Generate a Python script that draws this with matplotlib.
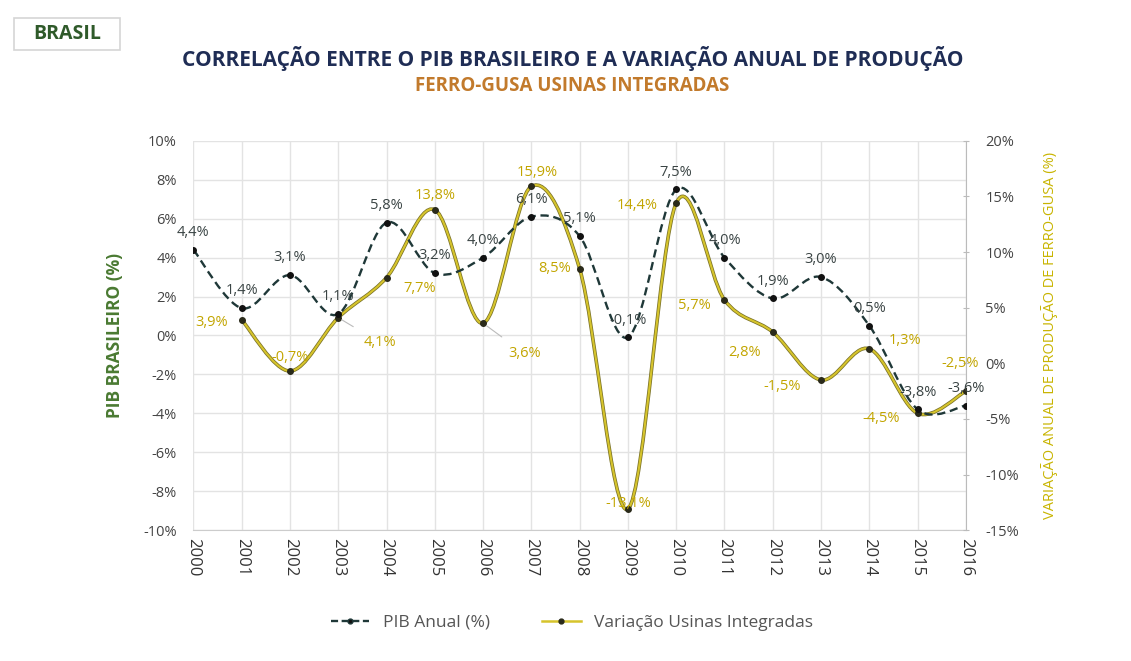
import numpy as np
import matplotlib
matplotlib.use("Agg")
import matplotlib.pyplot as plt
from matplotlib.path import Path
from matplotlib.patches import PathPatch, FancyBboxPatch
from matplotlib.lines import Line2D
from matplotlib.ticker import FuncFormatter

plt.rcParams['font.family'] = ['Open Sans', 'DejaVu Sans']

# dados
anos = list(range(2000, 2017))
pib = [4.4, 1.4, 3.1, 1.1, 5.8, 3.2, 4.0, 6.1, 5.1, -0.1, 7.5, 4.0, 1.9, 3.0, 0.5, -3.8, -3.6]
anos_gusa = list(range(2001, 2017))
gusa = [3.9, -0.7, 4.1, 7.7, 13.8, 3.6, 15.9, 8.5, -13.1, 14.4, 5.7, 2.8, -1.5, 1.3, -4.5, -2.5]

# posicao dos rotulos (pontos de deslocamento)
off_gusa = [(-22, -2), (0, 10), (30, -18), (24, -8), (0, 10), (30, -22), (4, 10), (-18, 0),
            (0, 4), (-28, -2), (-22, -4), (-20, -15), (-28, -5), (26, 6), (-26, -4), (-4, 20)]

COR_PIB = '#1f3838'
COR_GUSA = '#d6c42c'
COR_ROT_GUSA = '#c2a500'


def suave(x, y):
    # curva suavizada (bezier tipo excel)
    x = np.asarray(x, float)
    y = np.asarray(y, float)
    p = np.column_stack([x, y])
    n = len(p)
    verts = [p[0]]
    codes = [Path.MOVETO]
    for i in range(n - 1):
        p0 = p[i - 1] if i > 0 else p[i]
        p3 = p[i + 2] if i + 2 < n else p[i + 1]
        c1 = p[i] + (p[i + 1] - p0) / 6
        c2 = p[i + 1] - (p3 - p[i]) / 6
        verts += [c1, c2, p[i + 1]]
        codes += [Path.CURVE4] * 3
    return Path(verts, codes)


fig = plt.figure(figsize=(11.31, 6.61), dpi=100)
ax = fig.add_axes([0.171, 0.198, 0.683, 0.589])
ax2 = ax.twinx()

ax.set_xlim(2000, 2016)
ax.set_ylim(-10, 10)
ax2.set_ylim(-15, 20)
ax.set_yticks(np.arange(-10, 11, 2))
ax2.set_yticks(np.arange(-15, 21, 5))
ax.set_xticks(anos)
ax.set_xticklabels([str(a) for a in anos], rotation=-90, fontsize=12, color='#333333')
ax.yaxis.set_major_formatter(FuncFormatter(lambda v, p: '%d%%' % v))
ax2.yaxis.set_major_formatter(FuncFormatter(lambda v, p: '%d%%' % v))
ax.tick_params(axis='y', length=0, labelsize=10.5, colors='#444444', pad=12)
ax.tick_params(axis='x', length=0, pad=6)
ax2.tick_params(axis='y', length=4, direction='inout', labelsize=10.5, colors='#444444', pad=12)
ax2.tick_params(axis='y', color='#bbbbbb')

ax.grid(True, color='#e3e3e3', linewidth=1)
ax.set_axisbelow(True)
for s in ['top', 'left']:
    ax.spines[s].set_visible(False)
    ax2.spines[s].set_visible(False)
ax.spines['right'].set_visible(False)
ax.spines['bottom'].set_color('#cccccc')
ax2.spines['bottom'].set_visible(False)
ax2.spines['right'].set_color('#bbbbbb')

# serie gusa (eixo direito)
ax2.add_patch(PathPatch(suave(anos_gusa, gusa), fill=False, edgecolor='#7a7228', lw=2.6, zorder=2))
ax2.add_patch(PathPatch(suave(anos_gusa, gusa), fill=False, edgecolor=COR_GUSA, lw=1.5, zorder=3))
ax2.plot(anos_gusa, gusa, 'o', ms=4, color='#2a2a1a', zorder=4)

# serie pib (eixo esquerdo)
pib_line = PathPatch(suave(anos, pib), fill=False, edgecolor=COR_PIB, lw=1.7,
                     linestyle=(0, (3.5, 2)), transform=ax.transData, zorder=5)
ax2.add_patch(pib_line)
ax2.plot(anos, pib, 'o', ms=4, color='#111111', transform=ax.transData, zorder=6)

for a, v in zip(anos, pib):
    ax2.annotate(('%.1f%%' % v).replace('.', ','), (a, v), xycoords=ax.transData,
                 xytext=(0, 7), textcoords='offset points', ha='center', va='bottom',
                 fontsize=10.5, color='#3a4444', zorder=7)

for i, (a, v) in enumerate(zip(anos_gusa, gusa)):
    dx, dy = off_gusa[i]
    props = None
    if a in (2003, 2006):
        props = dict(arrowstyle='-', color='#bbbbbb', lw=0.8, shrinkA=8, shrinkB=3)
    ax2.annotate(('%.1f%%' % v).replace('.', ','), (a, v), xytext=(dx, dy),
                 textcoords='offset points', ha='center', va='center',
                 fontsize=10.5, color=COR_ROT_GUSA, arrowprops=props, zorder=7)

ax.set_ylabel('PIB BRASILEIRO (%)', fontsize=12.5, fontweight='bold', color='#4a7a32', labelpad=14)
ax2.set_ylabel('VARIAÇÃO ANUAL DE PRODUÇÃO DE FERRO-GUSA (%)', fontsize=10.5, color='#c8b400',
               labelpad=16)

fig.text(0.506, 0.912, 'CORRELAÇÃO ENTRE O PIB BRASILEIRO E A VARIAÇÃO ANUAL DE PRODUÇÃO',
         ha='center', va='center', fontsize=15, fontweight='bold', color='#1f2d55')
fig.text(0.506, 0.870, 'FERRO-GUSA USINAS INTEGRADAS', ha='center', va='center',
         fontsize=13.5, fontweight='bold', color='#c27a2c')

box = FancyBboxPatch((0.012, 0.925), 0.094, 0.048, boxstyle='square,pad=0', transform=fig.transFigure,
                     facecolor='white', edgecolor='#d5d5d5', lw=1.2)
fig.patches.append(box)
fig.text(0.059, 0.949, 'BRASIL', ha='center', va='center', fontsize=14, fontweight='bold',
         color='#2f5a2a')

handles = [Line2D([], [], color=COR_PIB, lw=1.7, linestyle=(0, (3, 1.5)), marker='o', ms=3.5,
                  markerfacecolor='#111111'),
           Line2D([], [], color=COR_GUSA, lw=1.8, marker='o', ms=3.5, markerfacecolor='#2a2a1a',
                  markeredgecolor='#2a2a1a')]
fig.legend(handles, ['PIB Anual (%)', 'Variação Usinas Integradas'], loc='center',
           bbox_to_anchor=(0.506, 0.058), ncol=2, frameon=False, fontsize=12.5,
           labelcolor='#555555', handlelength=2.2, columnspacing=3)

fig.savefig('out.png', dpi=100)
